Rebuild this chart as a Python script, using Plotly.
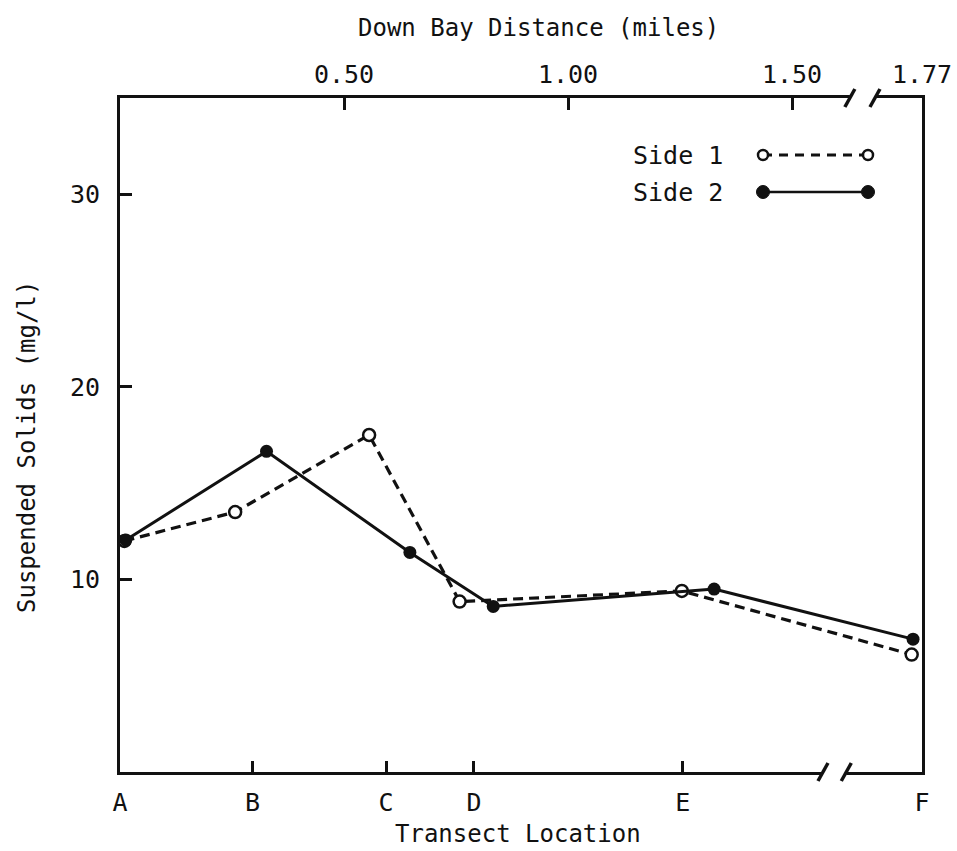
import plotly.graph_objects as go

# ---------------- data ----------------
transect_labels = ["A", "B", "C", "D", "E", "F"]
transect_miles = [0.0, 0.296, 0.594, 0.790, 1.256, 1.790]

distance_ticks = [0.5, 1.0, 1.5, 1.790]
distance_labels = ["0.50", "1.00", "1.50", "1.77"]

side1_x = [0.010, 0.257, 0.556, 0.758, 1.254, 1.767]
side1_y = [12.0, 13.5, 17.5, 8.85, 9.4, 6.1]

side2_x = [0.013, 0.327, 0.647, 0.833, 1.326, 1.770]
side2_y = [12.05, 16.65, 11.4, 8.6, 9.5, 6.9]

y_ticks = [10, 20, 30]

X_RANGE = [0, 1.790]
Y_RANGE = [0, 35]
BREAK_TOP = [1.629, 1.685]
BREAK_BOTTOM = [1.569, 1.621]

FONT = "DejaVu Sans Mono"
BLACK = "#111111"

fig = go.Figure()

fig.add_trace(go.Scatter(
    x=side1_x, y=side1_y, mode="lines+markers", name="Side 1",
    line=dict(color=BLACK, width=3.2, dash="10px,6px"),
    marker=dict(symbol="circle", size=12, color="white",
                line=dict(color=BLACK, width=2.5)),
    showlegend=False,
))
fig.add_trace(go.Scatter(
    x=side2_x, y=side2_y, mode="lines+markers", name="Side 2",
    line=dict(color=BLACK, width=3),
    marker=dict(symbol="circle", size=13, color=BLACK),
    showlegend=False,
))
# dummy trace to activate the top axis
fig.add_trace(go.Scatter(x=[None], y=[None], xaxis="x2", showlegend=False,
                         hoverinfo="skip"))

axis_common = dict(showgrid=False, zeroline=False, showline=True,
                   linecolor=BLACK, linewidth=3, ticks="inside",
                   tickcolor=BLACK, tickwidth=3, automargin=False,
                   tickfont=dict(family=FONT, size=25, color=BLACK))

fig.update_layout(
    width=957, height=851,
    margin=dict(l=120, r=35, t=98, b=79, autoexpand=False),
    paper_bgcolor="white", plot_bgcolor="white",
    font=dict(family=FONT, color=BLACK),
    xaxis=dict(range=X_RANGE, tickmode="array", tickvals=transect_miles,
               ticktext=transect_labels, ticklen=11, ticklabelstandoff=6,
               **axis_common),
    xaxis2=dict(range=X_RANGE, overlaying="x", side="top", tickmode="array",
                tickvals=distance_ticks, ticktext=distance_labels, ticklen=12,
                ticklabelstandoff=2, **axis_common),
    yaxis=dict(range=Y_RANGE, tickmode="array", tickvals=y_ticks,
               ticklen=12, mirror=True, ticklabelstandoff=12, **axis_common),
)

W = 957 - 120 - 35
H = 851 - 98 - 79


def px_x(px):
    return (px - 120) / W


def px_y(py):
    return (772 - py) / H


annotations = [
    dict(text="Down Bay Distance (miles)", x=px_x(538), y=px_y(28)),
    dict(text="Transect Location", x=px_x(518), y=px_y(834)),
    dict(text="Suspended Solids (mg/l)", x=px_x(27), y=px_y(447),
         textangle=-90),
]
for a in annotations:
    fig.add_annotation(xref="paper", yref="paper", showarrow=False,
                       xanchor="center", yanchor="middle",
                       font=dict(family=FONT, size=24, color=BLACK), **a)

# legend text
for label, py in [("Side 1", 155), ("Side 2", 192)]:
    fig.add_annotation(text=label, xref="paper", yref="paper",
                       x=px_x(631), y=px_y(py), xanchor="left",
                       yanchor="middle", showarrow=False,
                       font=dict(family=FONT, size=25, color=BLACK))

shapes = []
# legend keys
lx0, lx1 = px_x(763), px_x(868)
y1p, y2p = px_y(155), px_y(192)
shapes.append(dict(type="line", xref="paper", yref="paper", x0=lx0, x1=lx1,
                   y0=y1p, y1=y1p, line=dict(color=BLACK, width=3,
                                             dash="9px,7px")))
shapes.append(dict(type="line", xref="paper", yref="paper", x0=lx0, x1=lx1,
                   y0=y2p, y1=y2p, line=dict(color=BLACK, width=2.5)))
for lx in (lx0, lx1):
    shapes.append(dict(type="circle", xref="paper", yref="paper",
                       xsizemode="pixel", ysizemode="pixel",
                       xanchor=lx, yanchor=y1p, x0=-5, x1=5, y0=-5, y1=5,
                       fillcolor="white", line=dict(color=BLACK, width=2.5)))
    shapes.append(dict(type="circle", xref="paper", yref="paper",
                       xsizemode="pixel", ysizemode="pixel",
                       xanchor=lx, yanchor=y2p, x0=-6.5, x1=6.5, y0=-6.5,
                       y1=6.5, fillcolor=BLACK, line=dict(color=BLACK,
                                                          width=1)))

# axis breaks (white gap + slashes)
for brk, ypaper in [(BREAK_TOP, 1.0), (BREAK_BOTTOM, 0.0)]:
    shapes.append(dict(type="rect", xref="x", yref="paper",
                       ysizemode="pixel", yanchor=ypaper,
                       x0=brk[0], x1=brk[1], y0=-4, y1=4,
                       fillcolor="white", line=dict(width=0), layer="above"))
    for bx in brk:
        shapes.append(dict(type="line", xref="x", yref="paper",
                           xsizemode="pixel", ysizemode="pixel",
                           xanchor=bx, yanchor=ypaper,
                           x0=-5, x1=5, y0=-9, y1=9,
                           line=dict(color=BLACK, width=3.5), layer="above"))

fig.update_layout(shapes=shapes)

fig.write_html("out.html")
